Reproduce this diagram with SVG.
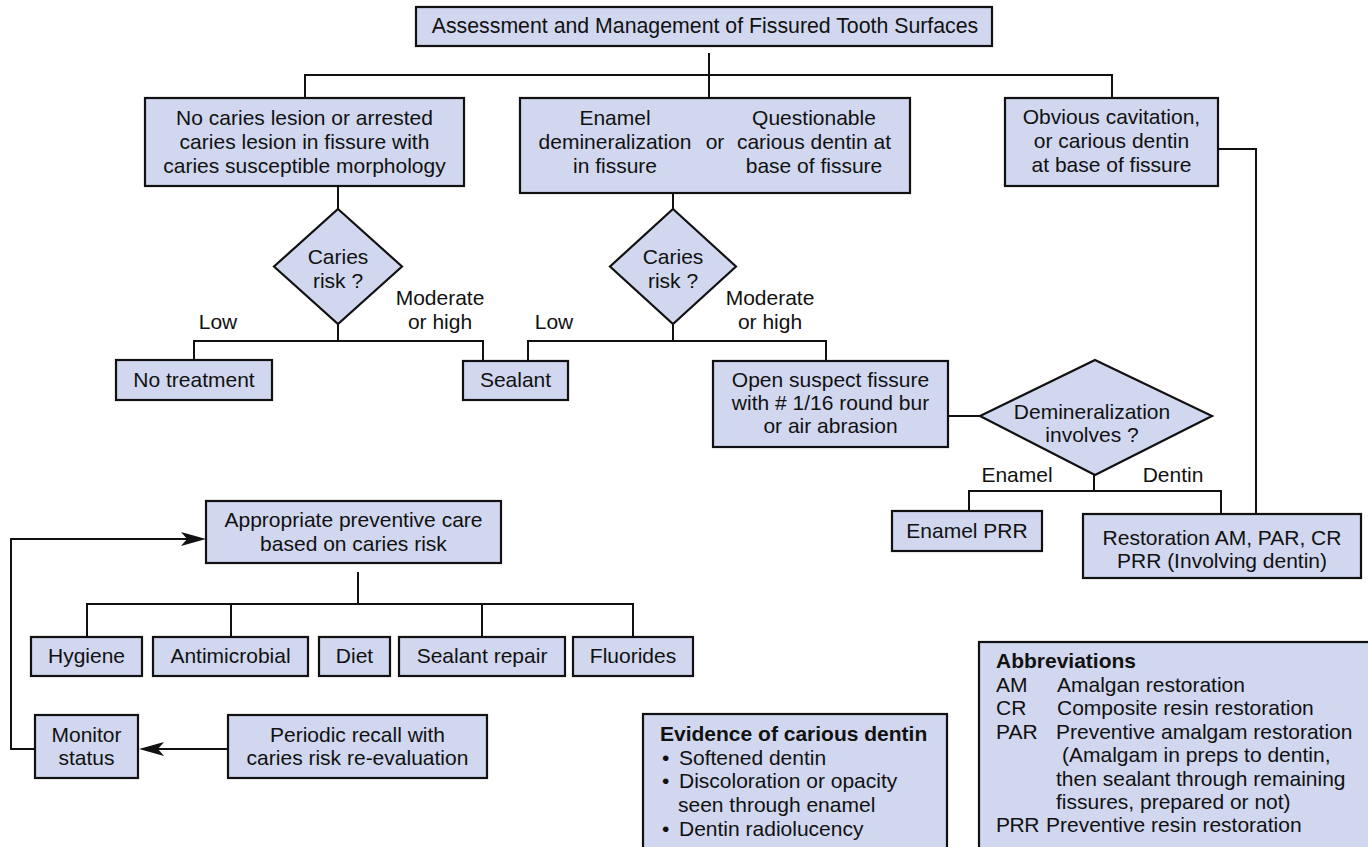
<svg xmlns="http://www.w3.org/2000/svg" width="1368" height="847" viewBox="0 0 1368 847">
<style>
.b{fill:#d0d7ef;stroke:#111;stroke-width:2.2}
.t{font-family:"Liberation Sans",Arial,sans-serif;font-size:21px;fill:#111;text-anchor:middle}
.l{font-family:"Liberation Sans",Arial,sans-serif;font-size:21px;fill:#111}
.h{font-weight:bold}
.c{fill:none;stroke:#111;stroke-width:2}
.a{fill:#111;stroke:none}
</style>
<rect width="1368" height="847" fill="#fff"/>
<g id="connectors">
<path class="c" d="M709,53 V97 M305,98 V75 H1112 V98"/>
<path class="c" d="M1218,149 H1256 V514"/>
<path class="c" d="M338,186 V209 M338,324 V341 M194,360 V341 H483 V361"/>
<path class="c" d="M673,193 V209 M673,324 V341 M528,361 V341 H826 V361"/>
<path class="c" d="M948,416 H980"/>
<path class="c" d="M1094,475 V491 M969,511 V491 H1221 V514"/>
<path class="c" d="M358,572 V604 M87,637 V604 H633 V637 M231,604 V637 M482,604 V637"/>
<path class="c" d="M35,749 H11 V539 H190"/>
<path class="a" d="M206,539 L181,532 L187,539 L181,546 Z"/>
<path class="c" d="M228,749 H155"/>
<path class="a" d="M139,749 L164,742 L158,749 L164,756 Z"/>
<text class="t" x="218" y="329">Low</text>
<text class="t" x="440" y="305">Moderate</text>
<text class="t" x="440" y="329">or high</text>
<text class="t" x="554" y="329">Low</text>
<text class="t" x="770" y="305">Moderate</text>
<text class="t" x="770" y="329">or high</text>
<text class="t" x="1017" y="482">Enamel</text>
<text class="t" x="1173" y="482">Dentin</text>
</g>
<g id="title">
<rect class="b" x="416" y="7" width="576" height="39"/>
<text class="t" x="705" y="33" style="font-size:21.3px">Assessment and Management of Fissured Tooth Surfaces</text>
</g>
<g id="no-caries">
<rect class="b" x="145" y="98" width="319" height="88"/>
<text class="t" x="304.5" y="125">No caries lesion or arrested</text>
<text class="t" x="304.5" y="149">caries lesion in fissure with</text>
<text class="t" x="304.5" y="173">caries susceptible morphology</text>
</g>
<g id="enamel-demin">
<rect class="b" x="520" y="98" width="390" height="95"/>
<text class="t" x="615" y="125">Enamel</text>
<text class="t" x="615" y="149">demineralization</text>
<text class="t" x="615" y="173">in fissure</text>
<text class="t" x="715" y="149">or</text>
<text class="t" x="814" y="125">Questionable</text>
<text class="t" x="814" y="149">carious dentin at</text>
<text class="t" x="814" y="173">base of fissure</text>
</g>
<g id="obvious">
<rect class="b" x="1005" y="98" width="213" height="88"/>
<text class="t" x="1111.5" y="124">Obvious cavitation,</text>
<text class="t" x="1111.5" y="148">or carious dentin</text>
<text class="t" x="1111.5" y="172">at base of fissure</text>
</g>
<g id="risk1">
<polygon class="b" points="338,209 402,266.5 338,324 274,266.5"/>
<text class="t" x="338" y="264">Caries</text>
<text class="t" x="338" y="288">risk ?</text>
</g>
<g id="risk2">
<polygon class="b" points="673,209 736,266.5 673,324 610,266.5"/>
<text class="t" x="673" y="264">Caries</text>
<text class="t" x="673" y="288">risk ?</text>
</g>
<g id="no-treatment">
<rect class="b" x="116" y="360" width="156" height="40"/>
<text class="t" x="194" y="387">No treatment</text>
</g>
<g id="sealant">
<rect class="b" x="463" y="361" width="105" height="39"/>
<text class="t" x="515.5" y="387">Sealant</text>
</g>
<g id="open-fissure">
<rect class="b" x="713" y="361" width="235" height="86"/>
<text class="t" x="830.5" y="387">Open suspect fissure</text>
<text class="t" x="830.5" y="410">with # 1/16 round bur</text>
<text class="t" x="830.5" y="433">or air abrasion</text>
</g>
<g id="demin-involves">
<polygon class="b" points="1095,360 1212,416 1095,475 980,416"/>
<text class="t" x="1092" y="419">Demineralization</text>
<text class="t" x="1092" y="442">involves ?</text>
</g>
<g id="enamel-prr">
<rect class="b" x="892" y="511" width="150" height="40"/>
<text class="t" x="967" y="538">Enamel PRR</text>
</g>
<g id="restoration">
<rect class="b" x="1083" y="514" width="278" height="64"/>
<text class="t" x="1222" y="545">Restoration AM, PAR, CR</text>
<text class="t" x="1222" y="568">PRR (Involving dentin)</text>
</g>
<g id="preventive">
<rect class="b" x="206" y="501" width="295" height="62"/>
<text class="t" x="353.5" y="527">Appropriate preventive care</text>
<text class="t" x="353.5" y="551">based on caries risk</text>
</g>
<g id="hygiene">
<rect class="b" x="31" y="637" width="111" height="39"/>
<text class="t" x="86.5" y="663">Hygiene</text>
</g>
<g id="antimicrobial">
<rect class="b" x="153" y="637" width="155" height="39"/>
<text class="t" x="230.5" y="663">Antimicrobial</text>
</g>
<g id="diet">
<rect class="b" x="319" y="637" width="71" height="39"/>
<text class="t" x="354.5" y="663">Diet</text>
</g>
<g id="sealant-repair">
<rect class="b" x="399" y="637" width="166" height="39"/>
<text class="t" x="482" y="663">Sealant repair</text>
</g>
<g id="fluorides">
<rect class="b" x="573" y="637" width="120" height="39"/>
<text class="t" x="633" y="663">Fluorides</text>
</g>
<g id="monitor">
<rect class="b" x="35" y="715" width="103" height="63"/>
<text class="t" x="86.5" y="742">Monitor</text>
<text class="t" x="86.5" y="765">status</text>
</g>
<g id="recall">
<rect class="b" x="228" y="715" width="259" height="63"/>
<text class="t" x="357.5" y="742">Periodic recall with</text>
<text class="t" x="357.5" y="765">caries risk re-evaluation</text>
</g>
<g id="evidence">
<rect class="b" x="643" y="714" width="304" height="140"/>
<text class="l h" x="660" y="741">Evidence of carious dentin</text>
<text class="l" x="662" y="765">•</text><text class="l" x="679" y="765">Softened dentin</text>
<text class="l" x="662" y="788">•</text><text class="l" x="679" y="788">Discoloration or opacity</text>
<text class="l" x="678" y="812">seen through enamel</text>
<text class="l" x="662" y="836">•</text><text class="l" x="679" y="836">Dentin radiolucency</text>
</g>
<g id="abbreviations">
<rect class="b" x="979" y="642" width="400" height="212"/>
<text class="l h" x="996" y="668">Abbreviations</text>
<text class="l" x="996" y="692">AM</text><text class="l" x="1057" y="692">Amalgan restoration</text>
<text class="l" x="996" y="715">CR</text><text class="l" x="1057" y="715">Composite resin restoration</text>
<text class="l" x="996" y="739">PAR</text><text class="l" x="1056" y="739">Preventive amalgam restoration</text>
<text class="l" x="1062" y="762">(Amalgam in preps to dentin,</text>
<text class="l" x="1056" y="786">then sealant through remaining</text>
<text class="l" x="1056" y="809">fissures, prepared or not)</text>
<text class="l" x="996" y="832" style="letter-spacing:-0.5px">PRR</text><text class="l" x="1046" y="832">Preventive resin restoration</text>
</g>
</svg>
